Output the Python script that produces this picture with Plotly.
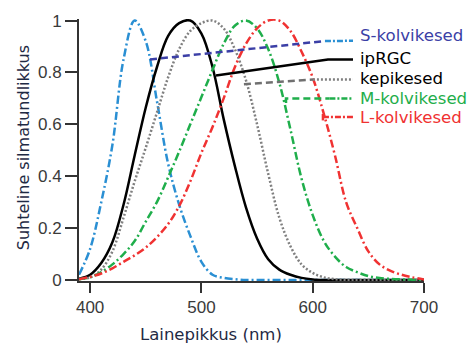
import plotly.graph_objects as go

# Wavelengths (nm)
wl = [390, 400, 410, 420, 430, 440, 450, 460, 470, 480, 490, 500, 510, 520, 530, 540,
      550, 560, 570, 580, 590, 600, 610, 620, 630, 640, 650, 660, 670, 680, 690, 700]

s_cone = [0.02, 0.12, 0.30, 0.52, 0.85, 1.00, 0.92, 0.69, 0.45, 0.29, 0.17, 0.07, 0.02, 0.008, 0.003, 0,
          0, 0, 0, 0, 0, 0, 0, 0, 0, 0, 0, 0, 0, 0, 0, 0]
iprgc = [0.005, 0.02, 0.065, 0.145, 0.29, 0.48, 0.665, 0.82, 0.94, 0.99, 1.00, 0.95, 0.82, 0.62, 0.44, 0.28,
         0.16, 0.08, 0.04, 0.02, 0.008, 0.002, 0, 0, 0, 0, 0, 0, 0, 0, 0, 0]
rods = [0.003, 0.01, 0.04, 0.11, 0.24, 0.38, 0.51, 0.645, 0.78, 0.89, 0.96, 0.99, 1.00, 0.97, 0.89, 0.77,
        0.60, 0.41, 0.24, 0.13, 0.06, 0.027, 0.01, 0.003, 0, 0, 0, 0, 0, 0, 0, 0]
m_cone = [0.003, 0.01, 0.03, 0.06, 0.10, 0.15, 0.225, 0.30, 0.395, 0.495, 0.60, 0.705, 0.81, 0.91, 0.98, 1.00,
          0.97, 0.89, 0.76, 0.58, 0.39, 0.25, 0.15, 0.09, 0.05, 0.03, 0.015, 0.008, 0.004, 0.002, 0.001, 0]
l_cone = [0.003, 0.012, 0.025, 0.045, 0.07, 0.095, 0.125, 0.165, 0.215, 0.285, 0.38, 0.49, 0.59, 0.70, 0.82, 0.91,
          0.97, 1.00, 1.00, 0.96, 0.88, 0.78, 0.64, 0.48, 0.30, 0.20, 0.11, 0.06, 0.035, 0.02, 0.01, 0.002]

labels = ["S-kolvikesed", "ipRGC", "kepikesed", "M-kolvikesed", "L-kolvikesed"]
x_ticks = [400, 500, 600, 700]
y_ticks = [0, 0.2, 0.4, 0.6, 0.8, 1]
y_tick_text = ["0", "0.2", "0.4", "0.6", "0.8", "1"]

BLUE = "#2a8fd3"
NAVY = "#3b3fa6"
GREEN = "#1fae4b"
RED = "#f03232"
GRAY = "#808080"

fig = go.Figure()

curves = [
    (s_cone, BLUE, "8px,3px,2px,3px"),
    (iprgc, "black", "solid"),
    (rods, GRAY, "2px,2px"),
    (m_cone, GREEN, "8px,3px,2px,3px"),
    (l_cone, RED, "8px,3px,2px,3px"),
]
for ys, col, dash in curves:
    fig.add_trace(go.Scatter(x=wl, y=ys, mode="lines",
                             line=dict(color=col, width=2.5, dash=dash, shape="spline", smoothing=1.0),
                             hoverinfo="skip", showlegend=False))

# leader lines (data coords)
leaders = [
    ([453.8, 611], [0.85, 0.921], NAVY, "7px,4px"),
    ([611, 636.2], [0.921, 0.922], BLUE, "6px,2px,2px,2px"),
    ([513.1, 613.7, 636.2], [0.788, 0.85, 0.85], "black", "solid"),
    ([538.2, 600.2], [0.754, 0.773], "#707070", "7px,4px"),
    ([600.2, 636.2], [0.773, 0.773], GRAY, "2px,2px"),
    ([576, 576, 615], [0.682, 0.70, 0.70], GREEN, "7px,4px"),
    ([615, 636.2], [0.70, 0.70], GREEN, "6px,2px,2px,2px"),
    ([609.2, 609.2], [0.615, 0.64], RED, "solid"),
    ([609.2, 636.2], [0.628, 0.628], RED, "6px,2px,2px,2px"),
]
for xs, ys, col, dash in leaders:
    fig.add_trace(go.Scatter(x=xs, y=ys, mode="lines", line=dict(color=col, width=2.5, dash=dash),
                             hoverinfo="skip", showlegend=False))

label_y = [0.942, 0.854, 0.778, 0.70, 0.627]
label_col = [NAVY, "black", "black", GREEN, RED]
for t, yv, c in zip(labels, label_y, label_col):
    fig.add_annotation(x=641.0, y=yv, text=t, showarrow=False, xanchor="left", yanchor="middle",
                       font=dict(family="DejaVu Sans", size=16.6, color=c))

fig.add_annotation(x=508.7, y=-0.206, xref="x", yref="paper", text="Lainepikkus (nm)", showarrow=False,
                   yanchor="middle", font=dict(family="DejaVu Sans", size=16.5, color="#1f2a44"))
fig.add_annotation(x=-0.16, y=0.51, xref="paper", yref="paper", text="Suhteline silmatundlikkus",
                   showarrow=False, textangle=-90, xanchor="center", yanchor="middle",
                   font=dict(family="DejaVu Sans", size=16, color="#1f2a44"))

fig.update_xaxes(range=[390, 700], tickvals=x_ticks, ticks="outside", ticklen=10, tickwidth=2,
                 tickcolor="#333", showline=True, linewidth=2, linecolor="#333", showgrid=False,
                 zeroline=False, tickfont=dict(family="Liberation Sans", size=17, color="#3a3a3a"))
fig.update_yaxes(range=[-0.004, 1.006], tickvals=y_ticks, ticktext=y_tick_text, ticks="outside",
                 ticklen=12, tickwidth=2, tickcolor="#333", showline=True, linewidth=2, linecolor="#333",
                 showgrid=False, zeroline=False,
                 tickfont=dict(family="Liberation Sans", size=17, color="#3a3a3a"))

fig.update_layout(width=471, height=345, margin=dict(l=79, r=47, t=19, b=64),
                  paper_bgcolor="white", plot_bgcolor="white")

fig.write_html("out.html", config={"displayModeBar": False},
               post_script="document.body.style.margin='0';document.body.style.overflow='hidden';")
